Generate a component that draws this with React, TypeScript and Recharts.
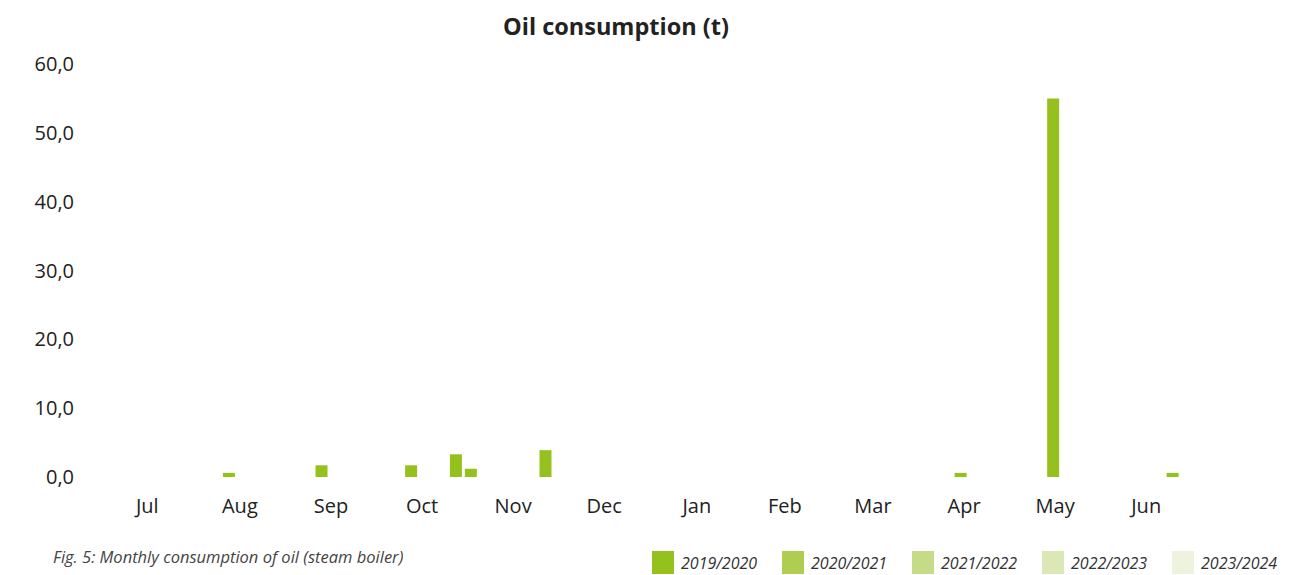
import { BarChart, Bar, XAxis, YAxis } from "recharts"

// month labels sit in the middle of each month, counted in days from 1 July
const MONTHS = ["Jul", "Aug", "Sep", "Oct", "Nov", "Dec", "Jan", "Feb", "Mar", "Apr", "May", "Jun"]
const MONTH_MID_DAY = [15.5, 46.5, 77, 107.5, 138, 168.5, 199.5, 229, 258.5, 289, 319.5, 350]

// days (from 1 July) on which oil was used, and the amount in t
const OIL_DAYS = [43, 74, 104, 119, 124, 149, 288, 319, 359]
const OIL_2019_2020 = [0.6, 1.7, 1.7, 3.3, 1.2, 3.9, 0.6, 55.0, 0.6]

const SEASONS = ["2019/2020", "2020/2021", "2021/2022", "2022/2023", "2023/2024"]
const SEASON_COLORS = ["#95c11f", "#afcd50", "#c5db88", "#dae8b6", "#edf3dc"]

const Y_TICKS = [0, 10, 20, 30, 40, 50, 60]

const data = OIL_DAYS.map((day, i) => ({
  day,
  "2019/2020": OIL_2019_2020[i],
}))

const FONT = "'Open Sans', 'Noto Sans', sans-serif"

export default function App() {
  return (
    <div
      style={{
        position: "absolute",
        left: 0,
        top: 0,
        width: 1296,
        height: 575,
        background: "#fff",
        fontFamily: FONT,
        color: "#222",
      }}
    >
      <div
        style={{
          position: "absolute",
          left: 503,
          top: 10,
          fontSize: 23.5,
          fontWeight: 700,
          lineHeight: "32px",
          whiteSpace: "nowrap",
        }}
      >
        Oil consumption (t)
      </div>

      <BarChart
        width={1296}
        height={575}
        data={data}
        margin={{ top: 64, right: 105, bottom: 58, left: 1 }}
      >
        <XAxis
          dataKey="day"
          type="number"
          domain={[0, 365]}
          ticks={MONTH_MID_DAY}
          interval={0}
          tickFormatter={(_v: number, i: number) => MONTHS[i]}
          axisLine={false}
          tickLine={false}
          tickMargin={16}
          height={40}
          tick={{ fontSize: 20, fill: "#222", fontFamily: FONT }}
        />
        <YAxis
          domain={[0, 60]}
          ticks={Y_TICKS}
          interval={0}
          tickFormatter={(v: number) => v.toFixed(1).replace(".", ",")}
          axisLine={false}
          tickLine={false}
          tickMargin={21}
          width={100}
          tick={{ fontSize: 20, fill: "#222", fontFamily: FONT }}
        />
        {SEASONS.map((s, i) => (
          <Bar
            key={s}
            dataKey={s}
            stackId="oil"
            fill={SEASON_COLORS[i]}
            barSize={12}
            isAnimationActive={false}
          />
        ))}
      </BarChart>

      <div
        style={{
          position: "absolute",
          left: 53,
          top: 545,
          fontSize: 16.5,
          fontStyle: "italic",
          color: "#444",
          whiteSpace: "nowrap",
        }}
      >
        Fig. 5: Monthly consumption of oil (steam boiler)
      </div>

      <div style={{ position: "absolute", left: 652, top: 551, display: "flex" }}>
        {SEASONS.map((s, i) => (
          <div key={s} style={{ display: "flex", alignItems: "center", width: 130 }}>
            <span
              style={{
                display: "inline-block",
                width: 22,
                height: 23,
                background: SEASON_COLORS[i],
                marginRight: 7,
              }}
            />
            <span style={{ fontSize: 16, fontStyle: "italic", color: "#333", whiteSpace: "nowrap" }}>
              {s}
            </span>
          </div>
        ))}
      </div>
    </div>
  )
}
